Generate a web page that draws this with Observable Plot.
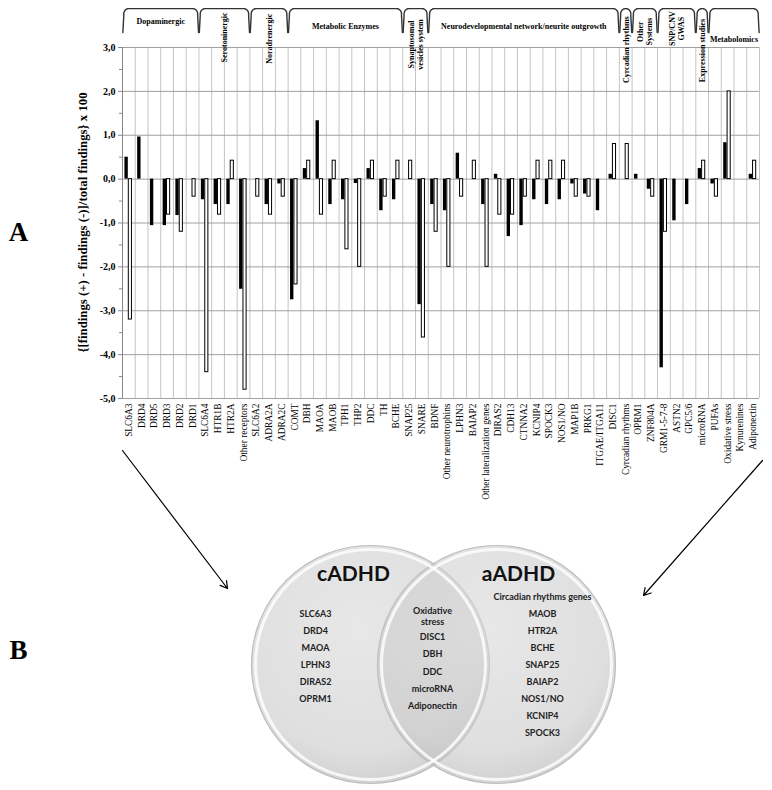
<!DOCTYPE html>
<html><head><meta charset="utf-8">
<script src="https://cdn.jsdelivr.net/npm/d3@7"></script>
<script src="https://cdn.jsdelivr.net/npm/@observablehq/plot@0.6"></script>
<style>
body{margin:0;background:#fff;}
#wrap{position:relative;width:772px;height:790px;overflow:hidden;}
#wrap > svg{position:absolute;left:0;top:0;margin:0;}
</style></head><body><div id="wrap"></div>
<script>
// ---------- data ----------
const categories = ["SLC6A3","DRD4","DRD5","DRD3","DRD2","DRD1","SLC6A4","HTR1B","HTR2A","Other receptors","SLC6A2","ADRA2A","ADRA2C","COMT","DBH","MAOA","MAOB","TPH1","THP2","DDC","TH","BCHE","SNAP25","SNARE","BDNF","Other neurotrophins","LPHN3","BAIAP2","Other lateralization genes","DIRAS2","CDH13","CTNNA2","KCNIP4","SPOCK3","NOS1/NO","MAP1B","PRKG1","ITGAE/ITGA11","DISC1","Cyrcadian rhythms","OPRM1","ZNF804A","GRM1-5-7-8","ASTN2","GPC5/6","microRNA","PUFAs","Oxidative stress","Kynurenines","Adiponectin"];
const groupNames = ["Dopaminergic","Serotoninergic","Noradrenergic","Metabolic Enzymes","Synaptosomal\nvesicles system","Neurodevelopmental network/neurite outgrowth","Cyrcadian rhythms","Other\nSystems","SNP/CNV\nGWAS","Expression studies","Metabolomics"];
const groupSizes = [6,4,3,9,2,15,1,2,3,1,4];
// black bars (children) and white bars (adults)
const cADHD = [0.5,0.96,-1.06,-1.06,-0.83,null,-0.47,-0.58,-0.58,-2.51,null,-0.58,-0.11,-2.75,0.24,1.33,-0.58,-0.47,-0.1,0.24,-0.72,-0.47,null,-2.86,-0.58,-0.72,0.59,null,-0.58,0.11,-1.31,-1.06,-0.47,-0.58,-0.47,-0.11,-0.34,-0.72,0.11,null,0.11,-0.23,-4.3,-0.95,-0.58,0.24,-0.11,0.83,null,0.11];
const aADHD = [-3.2,null,null,-0.81,-1.2,-0.4,-4.4,-0.81,0.42,-4.8,-0.4,-0.81,-0.4,-2.4,0.42,-0.81,0.42,-1.6,-2.0,0.42,-0.4,0.42,0.42,-3.61,-1.2,-2.0,-0.4,0.42,-2.0,-0.81,-0.81,-0.4,0.42,0.42,0.42,-0.4,-0.4,null,0.8,0.8,null,-0.4,-1.2,null,null,0.42,-0.4,2.0,null,0.42];
const yTicks = [-5,-4,-3,-2,-1,0,1,2,3];
const yTitle = "{[findings (+) - findings (-)]/total findings} x 100";
const vennSets = ["cADHD","aADHD"];
const vennChildOnly = ["SLC6A3","DRD4","MAOA","LPHN3","DIRAS2","OPRM1"];
const vennBoth = ["Oxidative\nstress","DISC1","DBH","DDC","microRNA","Adiponectin"];
const vennAdultOnly = ["Circadian rhythms genes","MAOB","HTR2A","BCHE","SNAP25","BAIAP2","NOS1/NO","KCNIP4","SPOCK3"];
const panelLetters = ["A","B"];

// ---------- derived tables ----------
const SERIF = "'Liberation Serif','Times New Roman',serif";
const SANS = "Lato,'Open Sans',sans-serif";
const blackBars = cADHD.map((v,i)=>({i,v})).filter(d=>d.v!=null);
const whiteBars = aADHD.map((v,i)=>({i,v})).filter(d=>d.v!=null);

const horizontalGroups = new Set(["Dopaminergic","Metabolic Enzymes","Neurodevelopmental network/neurite outgrowth","Metabolomics"]);
const labelY = {"Dopaminergic":3.61,"Serotoninergic":3.23,"Noradrenergic":3.2,"Metabolic Enzymes":3.5,
  "Synaptosomal\nvesicles system":3.07,"Neurodevelopmental network/neurite outgrowth":3.5,"Cyrcadian rhythms":2.95,
  "Other\nSystems":3.36,"SNP/CNV\nGWAS":3.43,"Expression studies":2.93,"Metabolomics":3.2};

const bracketPts = [], groupLabels = [];
let start = 0;
groupNames.forEach((g,k)=>{
  const a = start, b = start + groupSizes[k];
  const yb = 3.34, yt = 3.886, rx = 0.38, ry = 0.12;
  const pts = [[a+0.03,yb],[a+0.1,yt-ry-0.04]];
  for (let t=0;t<=8;t++){const th=t/8*Math.PI/2; pts.push([a+0.1+rx-rx*Math.cos(th), yt-ry+ry*Math.sin(th)]);}
  for (let t=0;t<=8;t++){const th=Math.PI/2-t/8*Math.PI/2; pts.push([b-0.1-rx+rx*Math.cos(th), yt-ry+ry*Math.sin(th)]);}
  pts.push([b-0.1,yt-ry-0.04],[b-0.03,yb]);
  pts.forEach(p=>bracketPts.push({g,x:p[0],y:p[1]}));
  groupLabels.push({g, mid:(a+b)/2, y:labelY[g], rot: horizontalGroups.has(g)?0:-90});
  start = b;
});

// ---------- main chart ----------
const main = Plot.plot({
  width: 772, height: 500,
  marginTop: 47, marginBottom: 102, marginLeft: 122, marginRight: 13,
  x: {domain:[0,categories.length], label:null},
  y: {domain:[-5,3], label:null},
  marks: [
    Plot.ruleX(d3.range(categories.length+1), {y1:-5, y2:3, stroke:"#c4c4c4", strokeWidth:1}),
    Plot.ruleY(yTicks, {stroke:"#a0a0a0", strokeWidth:1}),
    Plot.ruleX([0], {y1:-5, y2:3, stroke:"#888"}),
    Plot.axisY(yTicks, {tickFormat:d=>d.toFixed(1).replace(".",","), tickSize:4, tickPadding:3, fontSize:10, fontWeight:"bold", fontFamily:SERIF, label:null, stroke:"#888"}),
    Plot.axisY(d3.range(-4.5,3,1), {tickFormat:()=>"", tickSize:3, label:null, stroke:"#888"}),
    Plot.axisX(d3.range(categories.length).map(i=>i+0.5), {tickFormat:d=>categories[Math.floor(d)], tickRotate:-90, tickSize:0, tickPadding:5, fontSize:9.4, fontFamily:SERIF, label:null, anchor:"bottom"}),
    Plot.rect(blackBars, {x1:d=>d.i+0.19, x2:d=>d.i+0.455, y1:0, y2:"v", fill:"black"}),
    Plot.rect(whiteBars, {x1:d=>d.i+0.495, x2:d=>d.i+0.74, y1:0, y2:"v", fill:"white", stroke:"black", strokeWidth:1}),
    Plot.line(bracketPts, {x:"x", y:"y", z:"g", stroke:"#333", strokeWidth:1.4}),
    Plot.text(groupLabels, {x:"mid", y:"y", text:"g", rotate:"rot", fontSize:8, fontWeight:"bold", fontFamily:SERIF, lineHeight:1.15, fill:"black"})
  ]
});
main.style.fontFamily = SERIF;
main.style.overflow = "visible";
document.getElementById("wrap").appendChild(main);

// ---------- overlay: axis title, arrows, Venn diagram, panel letters ----------
const V = {cx:433, dx:63, cy:664, r:119, row0:596, rowH:17};
const vx = u => V.cx + V.dx*u;
const vy = r => V.row0 + V.rowH*r;
const circles = vennSets.map((s,k)=>({s, x:vx(k===0?-1:1), y:V.cy}));
const titles = vennSets.map((s,k)=>({s, x:k===0?vx(-1)-17:vx(1)+22, y:574}));
const listText = [
  ...vennChildOnly.map((t,k)=>({t, x:315, y:vy(k+1)})),
  ...vennBoth.map((t,k)=>({t, x:432, y:k===0?615.5:636+17.3*(k-1)})),
  ...vennAdultOnly.map((t,k)=>({t, x:542, y:vy(k)}))
];
const arrows = [{x1:122,y1:450,x2:227,y2:588},{x1:762,y1:460,x2:643,y2:595}];
const letters = panelLetters.map((t,k)=>({t, x:18, y:k===0?232:650}));

const over = Plot.plot({
  width:772, height:790, margin:0,
  x:{domain:[0,772], range:[0,772], axis:null},
  y:{domain:[0,790], range:[0,790], axis:null},
  marks:[
    Plot.text([yTitle], {x:()=>82, y:()=>222, rotate:-90, fontSize:12.8, fontWeight:"bold", fontFamily:SERIF, fill:"black"}),
    Plot.arrow(arrows, {x1:"x1", y1:"y1", x2:"x2", y2:"y2", stroke:"black", strokeWidth:1.2, headLength:10, bend:0}),
    Plot.dot(circles, {x:"x", y:"y", r:V.r, fill:"url(#vg)", fillOpacity:0.6, stroke:"#bdbdbd", strokeWidth:1.2}),
    Plot.dot(circles, {x:"x", y:"y", r:V.r-4, fill:"none", stroke:"white", strokeWidth:3, strokeOpacity:0.8}),
    Plot.text(titles, {x:"x", y:"y", text:"s", fontSize:21, fontWeight:"bold", fontFamily:SANS, fill:"#111"}),
    Plot.text(listText, {x:"x", y:"y", text:"t", fontSize:9, fontWeight:"bold", fontFamily:SANS, fill:"#222", lineHeight:1.2}),
    Plot.text(letters, {x:"x", y:"y", text:"t", fontSize:27, fontWeight:"bold", fontFamily:SERIF, fill:"black"})
  ]
});
over.style.background = "transparent";
over.style.overflow = "visible";
const ns = "http://www.w3.org/2000/svg";
const defs = document.createElementNS(ns,"defs");
defs.innerHTML = '<radialGradient id="vg" cx="45%" cy="35%" r="65%"><stop offset="0" stop-color="#d8d8d8"/><stop offset="0.8" stop-color="#c9c9c9"/><stop offset="1" stop-color="#b4b4b4"/></radialGradient>';
over.insertBefore(defs, over.firstChild);
document.getElementById("wrap").appendChild(over);
</script>
</body></html>
